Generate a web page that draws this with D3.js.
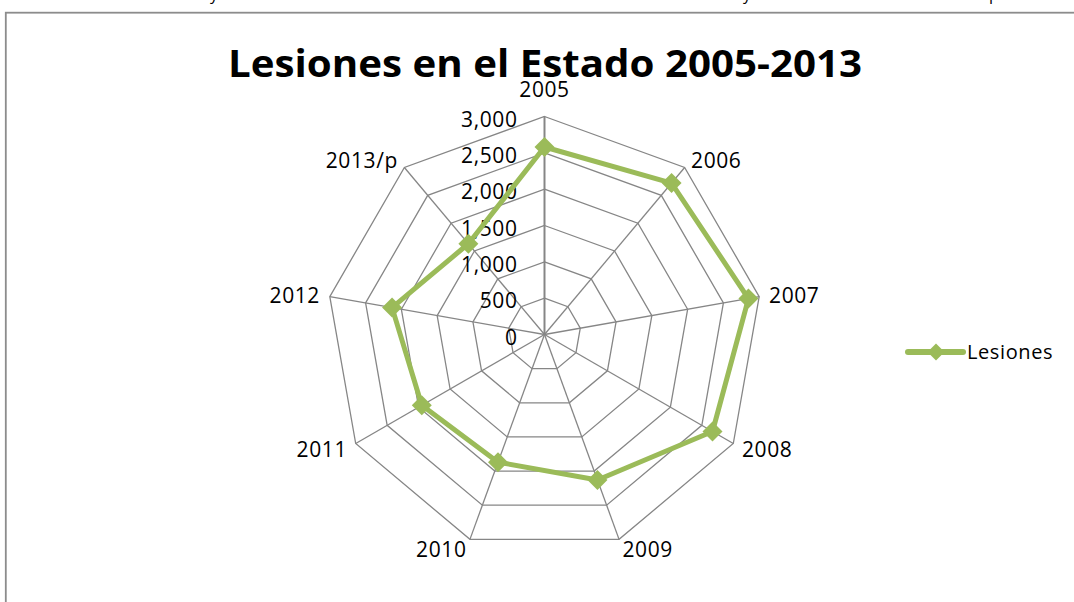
<!DOCTYPE html>
<meta charset="utf-8">
<script src="https://d3js.org/d3.v7.min.js"></script>
<style>
  body { margin: 0; background: #fff; }
  text { font-family: "Open Sans", sans-serif; fill: #000; }
</style>
<div id="chart"></div>
<script>

// data
var categories = ["2005", "2006", "2007", "2008", "2009", "2010", "2011", "2012", "2013/p"]
var lesiones = [2580, 2720, 2850, 2670, 2130, 1870, 1950, 2130, 1630]
var ticks = [0, 500, 1000, 1500, 2000, 2500, 3000]
var seriesName = "Lesiones"
var title = "Lesiones en el Estado 2005-2013"

var width = 1074, height = 602
var cx = 544.5, cy = 334.5, R = 218
var green = "#9BBB59", grid = "#868686"

var svg = d3.select("#chart").append("svg")
    .attr("width", width)
    .attr("height", height)

// bits of the document text cut off above the chart
svg.append("text").attr("x", 210).attr("y", 0).style("font-size", "16px").text("y")
svg.append("text").attr("x", 743).attr("y", 0).style("font-size", "16px").text("y")
svg.append("text").attr("x", 989).attr("y", 0).style("font-size", "16px").text("p")

// chart frame (runs off the page right and bottom)
svg.append("rect")
    .attr("x", 5.8).attr("y", 12.7)
    .attr("width", 1200).attr("height", 800)
    .attr("fill", "none")
    .attr("stroke", "#8c8c8c")
    .attr("stroke-width", 1.8)

var g = svg.append("g").attr("transform", "translate(" + cx + "," + cy + ")")

var r = d3.scaleLinear().domain([0, 3000]).range([0, R])
var angle = d3.scalePoint().domain(categories.concat(["_end"])).range([0, 2 * Math.PI])

var ring = d3.lineRadial()
    .angle(function(d) { return angle(d) })
    .curve(d3.curveLinearClosed)

// rings
g.selectAll(".ring")
  .data(ticks.filter(function(t) { return t > 0 }))
  .enter()
  .append("path")
    .attr("d", function(t) { return ring.radius(r(t))(categories) })
    .attr("fill", "none")
    .attr("stroke", grid)
    .attr("stroke-width", 1.3)

// spokes
g.selectAll(".spoke")
  .data(categories)
  .enter()
  .append("line")
    .attr("x2", function(d) { return d3.pointRadial(angle(d), R)[0] })
    .attr("y2", function(d) { return d3.pointRadial(angle(d), R)[1] })
    .attr("stroke", grid)
    .attr("stroke-width", function(d, i) { return i == 0 ? 2 : 1.3 })

// value axis labels
g.selectAll(".tick")
  .data(ticks)
  .enter()
  .append("text")
    .attr("x", -27)
    .attr("y", function(t) { return -r(t) + 10 })
    .attr("text-anchor", "end")
    .style("font-size", "21px")
    .style("letter-spacing", "0.6px")
    .text(function(t) { return d3.format(",")(t) })

// category labels
g.selectAll(".cat")
  .data(categories)
  .enter()
  .append("text")
    .attr("x", function(d) { return d3.pointRadial(angle(d), R + 10)[0] })
    .attr("y", function(d, i) { return d3.pointRadial(angle(d), R + 10)[1] + (i == 0 ? -10 : 8) })
    .attr("text-anchor", function(d) {
      var s = Math.sin(angle(d))
      return s > 0.1 ? "start" : (s < -0.1 ? "end" : "middle")
    })
    .style("font-size", "21px")
    .style("letter-spacing", "0.6px")
    .text(function(d) { return d })

// series
var line = d3.lineRadial()
    .angle(function(d, i) { return angle(categories[i]) })
    .radius(function(d) { return r(d) })
    .curve(d3.curveLinearClosed)

g.append("path")
    .attr("d", line(lesiones))
    .attr("fill", "none")
    .attr("stroke", green)
    .attr("stroke-width", 5)
    .attr("stroke-linejoin", "round")

var diamond = function(s) { return "M0," + (-s) + "L" + s + ",0L0," + s + "L" + (-s) + ",0Z" }

g.selectAll(".marker")
  .data(lesiones)
  .enter()
  .append("path")
    .attr("d", diamond(10))
    .attr("transform", function(d, i) { return "translate(" + d3.pointRadial(angle(categories[i]), r(d)) + ")" })
    .attr("fill", green)

// title
svg.append("text")
    .attr("x", 545).attr("y", 77)
    .attr("text-anchor", "middle")
    .attr("textLength", 634)
    .attr("lengthAdjust", "spacingAndGlyphs")
    .style("font-size", "38px")
    .style("font-weight", "bold")
    .text(title)

// legend
var legend = svg.append("g").attr("transform", "translate(908,352)")
legend.append("line")
    .attr("x2", 55)
    .attr("stroke", green)
    .attr("stroke-width", 6)
    .attr("stroke-linecap", "round")
legend.append("path")
    .attr("d", diamond(8.5))
    .attr("transform", "translate(28,0)")
    .attr("fill", green)
legend.append("text")
    .attr("x", 59).attr("y", 7)
    .style("font-size", "20px")
    .style("letter-spacing", "0.6px")
    .text(seriesName)

</script>
